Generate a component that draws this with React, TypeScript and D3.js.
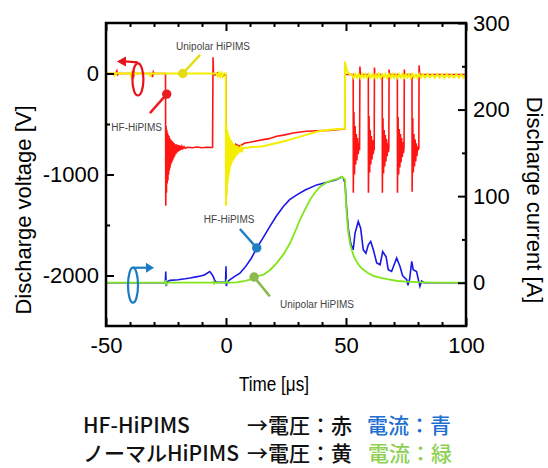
import React, { useEffect, useRef } from 'react';
import * as d3 from 'd3';

type Pt = [number, number];

// axes
const timeTicks = [-50, 0, 50, 100];
const timeMinor = [-40, -30, -20, -10, 10, 20, 30, 40, 60, 70, 80, 90];
const voltageTicks = [-2000, -1000, 0];
const voltageMinor = [-1500, -500];
const currentTicks = [0, 100, 200, 300];
const currentMinor = [50, 150, 250];

// HF-HiPIMS discharge voltage [V] (red)
const hfVoltage: Pt[] = [
  [-50, 0], [-46, 0], [-45.5, 25], [-45.2, -20], [-45, 0], [-39, 0], [-38.5, -30], [-38.2, 10], [-38, 0],
  [-31, 0], [-30.6, -35], [-30.3, 15], [-30, 0], [-25.2, 0],
  [-25.1, -1310], [-24.95, -520], [-24.8, -1180], [-24.65, -560], [-24.5, -1090], [-24.35, -590],
  [-24.2, -1060], [-24.05, -610], [-23.9, -1000], [-23.75, -620], [-23.6, -960], [-23.45, -640],
  [-23.3, -930], [-23.15, -650], [-23.0, -900], [-22.8, -660], [-22.6, -880], [-22.4, -670],
  [-22.2, -860], [-22.0, -680], [-21.8, -840], [-21.6, -690], [-21.4, -820], [-21.2, -700],
  [-21.0, -800], [-20.8, -700], [-20.6, -790], [-20.3, -705], [-20.0, -775], [-19.7, -710],
  [-19.4, -765], [-19.1, -715], [-18.8, -755], [-18.4, -720], [-18.0, -745], [-17.5, -725],
  [-17.0, -740], [-16, -730], [-14, -735], [-12, -728], [-10, -735], [-8, -730], [-6, -732], [-5.6, -730],
  [-5.4, 160], [-5.2, -5], [-4.5, -15], [-3.5, 5], [-3, -20], [-2, -10], [-1.2, -25], [-0.5, -10], [0, -10],
  [0.1, -1250], [0.3, -600], [0.6, -1000], [1, -650], [1.5, -900], [2, -680], [3, -800], [4, -700],
  [5.5, -720], [7.9, -688], [10, -680], [12, -670], [15.5, -655], [18, -645], [21.1, -622], [24, -610],
  [28, -589], [31, -580], [33.6, -572], [38, -567], [43.3, -563], [47.5, -553], [49.5, -550],
  [49.6, -10], [53.0, -10],
  [53.05, -1180], [53.3, -380], [53.55, -1000], [53.8, -520], [54.05, -900], [54.3, -600], [54.55, -860],
  [54.8, -640], [55.1, -800], [55.4, -690], [55.65, -760], [55.8, 70], [56.0, -10], [59.3, -10],
  [59.35, -1180], [59.6, -420], [59.85, -980], [60.1, -560], [60.35, -900], [60.6, -620], [60.85, -850],
  [61.1, -660], [61.35, -800], [61.6, -720], [61.75, -760], [61.85, 60], [62.05, -10], [65.1, -10],
  [65.15, -1180], [65.4, -440], [65.65, -990], [65.9, -560], [66.15, -920], [66.4, -610], [66.65, -870],
  [66.9, -650], [67.15, -820], [67.4, -690], [67.65, -780], [67.85, -740], [67.95, 40], [68.15, -10], [71.4, -10],
  [71.45, -1180], [71.7, -430], [71.95, -1000], [72.2, -550], [72.45, -930], [72.7, -600], [72.95, -880],
  [73.2, -640], [73.45, -830], [73.7, -680], [73.95, -790], [74.2, -720], [74.3, 40], [74.5, -10], [77.5, -10],
  [77.55, -1170], [77.8, -440], [78.05, -980], [78.3, -600], [78.55, -920], [78.8, -650], [79.05, -870],
  [79.3, -690], [79.55, -820], [79.8, -720], [80.1, -760], [80.35, -740], [80.45, 80], [80.7, -10], [100, -10],
];

// Unipolar HiPIMS discharge voltage [V] (yellow)
const uniVoltage: Pt[] = [
  [-50, 0], [-47, 0], [-46.5, -20], [-46, 5], [-44, 0], [-40, 0], [-39.6, -25], [-39.3, 10], [-39, 0],
  [-32, 0], [-31.5, -20], [-31, 0], [-20, 0], [-10, 0], [-4, 0], [-3.5, -25], [-3, 5], [-2.5, -30],
  [-2, 5], [-1.5, -30], [-1, 0], [-0.1, 0],
  [0, -1310], [0.15, -520], [0.3, -1200], [0.45, -560], [0.6, -1100], [0.75, -590], [0.9, -1050],
  [1.05, -610], [1.2, -1000], [1.35, -630], [1.5, -960], [1.7, -650], [1.9, -920], [2.1, -660],
  [2.3, -890], [2.5, -680], [2.75, -870], [3.0, -690], [3.25, -850], [3.5, -700], [3.8, -830],
  [4.1, -710], [4.4, -810], [4.7, -715], [5.0, -795], [5.4, -725], [5.8, -780], [6.2, -730],
  [6.7, -765], [7.2, -735], [7.9, -737],
  [11, -728], [15.5, -720], [18, -705], [21.1, -688], [25, -665], [28, -645], [31, -625], [33.6, -605],
  [36, -590], [38.6, -572], [43.3, -558], [48.9, -546], [49.5, -546],
  [49.6, 118], [50.3, 36], [51, 3], [51.7, -7],
  [52.5, -12], [53.2, -42], [53.9, -6], [54.6, -40], [55.3, -8], [56, -44], [56.7, -5], [57.4, -39],
  [58.1, -9], [58.8, -43], [59.5, -6], [60.2, -38], [60.9, -10], [61.6, -44], [62.3, -7], [63, -40],
  [63.7, -5], [64.4, -42], [65.1, -9], [65.8, -38], [66.5, -6], [67.2, -43], [67.9, -8], [68.6, -40],
  [69.3, -5], [70, -41], [70.7, -10], [71.4, -44], [72.1, -6], [72.8, -39], [73.5, -8], [74.2, -42],
  [74.9, -5], [75.6, -40], [76.3, -9], [77, -43], [77.7, -6], [78.4, -38], [79.1, -10], [79.8, -42],
  [80.5, -7], [81.2, -40], [82, -8], [83, -41], [84, -6], [85, -39], [86, -9], [87, -42], [88, -7],
  [89, -40], [90, -8], [91, -43], [92, -6], [93, -39], [94, -10], [95, -41], [96, -7], [97, -40],
  [98, -9], [99, -42], [100, -10],
];

// HF-HiPIMS discharge current [A] (blue)
const hfCurrent: Pt[] = [
  [-50, 0], [-40, 0], [-30, 0], [-25.3, 0], [-25.1, 13], [-24.9, -4], [-24.6, 1], [-23.3, 2.7], [-20, 3.5],
  [-17, 4.5], [-15, 5.4], [-12, 7], [-9, 9], [-6.8, 13], [-6.2, 11], [-5.3, 7], [-4.6, 2], [-3.9, 0.4],
  [-1, 0.5], [-0.2, 0], [0, 19], [0.15, -4], [0.5, 1], [1.7, 3.5], [3.5, 7], [5.8, 11], [8, 18],
  [10.5, 28], [12.8, 40], [15.5, 52], [18.3, 65], [21, 77], [23.9, 88], [26.5, 96], [29.5, 101.5],
  [33, 107], [37.8, 113], [40.5, 115], [43.3, 117], [46, 119], [48.2, 122], [48.9, 121], [49.6, 115],
  [50.3, 84], [51, 62], [52, 45], [53, 38], [53.75, 57], [55.1, 70.7], [56.1, 63], [57.2, 38],
  [58.3, 34], [59.3, 43.8], [60.3, 47.6], [61.4, 38], [62.8, 22.7], [64.2, 20.8], [65.3, 36],
  [66.7, 30], [67.6, 15], [69, 13], [71.1, 28.5], [72.5, 18.8], [73.6, 8], [75.3, 3.5], [75.8, -3],
  [76.5, 4], [77.4, 24.6], [78, 15], [79.4, 13], [80.2, 3], [80.8, -4], [81.5, 2], [82.5, 0], [90, 0], [100, 0],
];

// Unipolar HiPIMS discharge current [A] (green)
const uniCurrent: Pt[] = [
  [-50, 0], [-25.2, 0], [-25.1, 3], [-24.9, -3], [-24.7, 0], [-5.4, 0], [-5.2, 2], [-5, -2], [-4.8, 0],
  [0, 0], [0.2, 2], [0.5, 0], [4.4, 0.4], [8, 2], [10, 3.5], [11.7, 6.5], [13.5, 8], [15.6, 9.2],
  [18.5, 15], [21.1, 22.7], [24, 33], [26.7, 45.8], [28.8, 59], [30.8, 72.7], [33, 85], [35, 95.7],
  [37, 104], [39.2, 111], [42, 116], [44.7, 118.8], [46.5, 120], [48.2, 122.6], [48.9, 121], [49.6, 119],
  [50, 92], [50.5, 72], [51, 57], [51.7, 45], [52.4, 38], [53.3, 30], [54.4, 24.6], [55.7, 19],
  [57.2, 15], [59, 11.5], [61.4, 8], [64.5, 5.5], [68.3, 3.5], [71.5, 2], [75.3, 1.2], [82, 0.5],
  [90, 0], [100, 0],
];

// callouts: marker point, end of leader line, label position (data coords)
const voltageCallouts = [
  { name: 'Unipolar HiPIMS', dot: [-18, 0], end: [-10.8, 185], text: [-5.4, 237], anchor: 'middle', color: '#e6dc14' },
  { name: 'HF-HiPIMS', dot: [-24.7, -204], end: [-31.7, -392], text: [-26.7, -572], anchor: 'end', color: '#ec1c24' },
];
const currentCallouts = [
  { name: 'HF-HiPIMS', dot: [12.8, 40.2], end: [5.8, 62], text: [1.3, 69], anchor: 'middle', color: '#1f7fc0' },
  { name: 'Unipolar HiPIMS', dot: [11.7, 6.6], end: [18.3, -15.8], text: [22.5, -29], anchor: 'start', color: '#8cb84c' },
];

const W = 548;
const H = 468;
const margin = { top: 23, right: 82, bottom: 142, left: 106 };

export default function App() {
  const ref = useRef<SVGSVGElement>(null);

  useEffect(() => {
    const svg = d3.select(ref.current);
    svg.selectAll('*').remove();

    const x0 = margin.left;
    const x1 = W - margin.right;
    const y0 = margin.top;
    const y1 = H - margin.bottom;

    const x = d3.scaleLinear().domain([-50, 100]).range([x0, x1]);
    const yV = d3.scaleLinear().domain([-2500, 500]).range([y1, y0]);
    const yI = d3.scaleLinear().domain([-50, 300]).range([y1, y0]);

    const font = "'Liberation Sans', Arial, sans-serif";

    svg.append('rect').attr('width', W).attr('height', H).attr('fill', '#fff');

    svg.append('clipPath').attr('id', 'plot')
      .append('rect').attr('x', x0).attr('y', y0).attr('width', x1 - x0).attr('height', y1 - y0);

    const plot = svg.append('g').attr('clip-path', 'url(#plot)');

    const lineV = d3.line<Pt>().x(d => x(d[0])).y(d => yV(d[1]));
    const lineI = d3.line<Pt>().x(d => x(d[0])).y(d => yI(d[1]));

    plot.append('path').datum(hfVoltage).attr('d', lineV)
      .attr('fill', 'none').attr('stroke', '#ff1414').attr('stroke-width', 1.6);
    plot.append('path').datum(uniVoltage).attr('d', lineV)
      .attr('fill', 'none').attr('stroke', '#f4ee00').attr('stroke-width', 2);
    plot.append('path').datum(hfCurrent).attr('d', lineI)
      .attr('fill', 'none').attr('stroke', '#1818e8').attr('stroke-width', 1.6);
    plot.append('path').datum(uniCurrent).attr('d', lineI)
      .attr('fill', 'none').attr('stroke', '#80e619').attr('stroke-width', 1.8);

    // axes (ticks pointing inward)
    const styleAxis = (g: any) => {
      g.select('.domain').remove();
      g.selectAll('line').attr('stroke', '#000').attr('stroke-width', 2);
      g.selectAll('text').attr('font-size', 22).attr('font-family', font).attr('fill', '#000');
    };
    const fmt = (d: any) => String(d);

    svg.append('g').attr('transform', `translate(0,${y1})`)
      .call(d3.axisBottom(x).tickValues(timeTicks).tickSize(-8).tickPadding(11).tickFormat(fmt))
      .call(styleAxis);
    svg.append('g').attr('transform', `translate(0,${y1})`)
      .call(d3.axisBottom(x).tickValues(timeMinor).tickSize(-4).tickFormat(() => ''))
      .call(styleAxis);
    svg.append('g').attr('transform', `translate(0,${y0})`)
      .call(d3.axisTop(x).tickValues(timeTicks).tickSize(-8).tickFormat(() => ''))
      .call(styleAxis);
    svg.append('g').attr('transform', `translate(0,${y0})`)
      .call(d3.axisTop(x).tickValues(timeMinor).tickSize(-4).tickFormat(() => ''))
      .call(styleAxis);

    svg.append('g').attr('transform', `translate(${x0},0)`)
      .call(d3.axisLeft(yV).tickValues(voltageTicks).tickSize(-8).tickPadding(7).tickFormat(fmt))
      .call(styleAxis);
    svg.append('g').attr('transform', `translate(${x0},0)`)
      .call(d3.axisLeft(yV).tickValues(voltageMinor).tickSize(-4).tickFormat(() => ''))
      .call(styleAxis);

    svg.append('g').attr('transform', `translate(${x1},0)`)
      .call(d3.axisRight(yI).tickValues(currentTicks).tickSize(-8).tickPadding(7).tickFormat(fmt))
      .call(styleAxis);
    svg.append('g').attr('transform', `translate(${x1},0)`)
      .call(d3.axisRight(yI).tickValues(currentMinor).tickSize(-4).tickFormat(() => ''))
      .call(styleAxis);

    svg.append('rect')
      .attr('x', x0).attr('y', y0).attr('width', x1 - x0).attr('height', y1 - y0)
      .attr('fill', 'none').attr('stroke', '#000').attr('stroke-width', 2.5);

    // axis titles
    svg.append('text')
      .attr('transform', `translate(31,210) rotate(-90)`)
      .attr('text-anchor', 'middle').attr('font-family', font).attr('font-size', 22)
      .text('Discharge voltage [V]');
    svg.append('text')
      .attr('transform', `translate(527,200) rotate(90)`)
      .attr('text-anchor', 'middle').attr('font-family', font).attr('font-size', 22)
      .text('Discharge current [A]');
    svg.append('text')
      .attr('x', 274).attr('y', 391)
      .attr('text-anchor', 'middle').attr('font-family', font).attr('font-size', 20)
      .attr('textLength', 70).attr('lengthAdjust', 'spacingAndGlyphs')
      .text('Time [μs]');

    // callouts
    const drawCallout = (c: any, ys: any) => {
      const g = svg.append('g');
      g.append('line')
        .attr('x1', x(c.dot[0])).attr('y1', ys(c.dot[1]))
        .attr('x2', x(c.end[0])).attr('y2', ys(c.end[1]))
        .attr('stroke', c.color).attr('stroke-width', 2.5);
      g.append('circle')
        .attr('cx', x(c.dot[0])).attr('cy', ys(c.dot[1])).attr('r', 4.7)
        .attr('fill', c.color);
      g.append('text')
        .attr('x', x(c.text[0])).attr('y', ys(c.text[1]))
        .attr('text-anchor', c.anchor).attr('font-family', font).attr('font-size', 10)
        .attr('fill', '#444').text(c.name);
    };
    voltageCallouts.forEach(c => drawCallout(c, yV));
    currentCallouts.forEach(c => drawCallout(c, yI));

    // axis-assignment loops with arrows
    const rx = x(-36.7), ry = yV(-59);
    svg.append('ellipse').attr('cx', rx).attr('cy', ry).attr('rx', 5.5).attr('ry', 16)
      .attr('fill', 'none').attr('stroke', '#e8121a').attr('stroke-width', 2.2);
    svg.append('line').attr('x1', rx).attr('y1', ry - 17).attr('x2', rx - 13).attr('y2', ry - 18)
      .attr('stroke', '#e8121a').attr('stroke-width', 2.2);
    svg.append('path')
      .attr('d', `M${rx - 21},${ry - 18} L${rx - 12},${ry - 23} L${rx - 12},${ry - 13} Z`)
      .attr('fill', '#e8121a');

    const bx = x(-38.75), by = yI(-2.9);
    svg.append('ellipse').attr('cx', bx).attr('cy', by).attr('rx', 5).attr('ry', 17.5)
      .attr('fill', 'none').attr('stroke', '#1a7cc4').attr('stroke-width', 2.2);
    svg.append('line').attr('x1', bx).attr('y1', by - 17.5).attr('x2', bx + 14).attr('y2', by - 17.5)
      .attr('stroke', '#1a7cc4').attr('stroke-width', 2.2);
    svg.append('path')
      .attr('d', `M${bx + 21},${by - 17.5} L${bx + 13},${by - 22.5} L${bx + 13},${by - 12.5} Z`)
      .attr('fill', '#1a7cc4');

    // legend notes below the chart
    const jp = "'Noto Sans CJK JP', 'Noto Sans', sans-serif";
    const note = (tx: number, ty: number, s: string, color: string) =>
      svg.append('text').attr('x', tx).attr('y', ty)
        .attr('font-family', jp).attr('font-size', 21).attr('font-weight', 500)
        .attr('fill', color).text(s);
    note(83, 433, 'HF-HiPIMS', '#111');
    note(247, 433, '→電圧：赤', '#111');
    note(367, 433, '電流：青', '#1e6fd2');
    note(83, 461, 'ノーマルHiPIMS', '#111');
    note(247, 461, '→電圧：黄', '#111');
    note(368, 461, '電流：緑', '#8ed152');
  }, []);

  return (
    <svg ref={ref} width={W} height={H}
      style={{ position: 'absolute', left: 0, top: 0, display: 'block' }} />
  );
}
